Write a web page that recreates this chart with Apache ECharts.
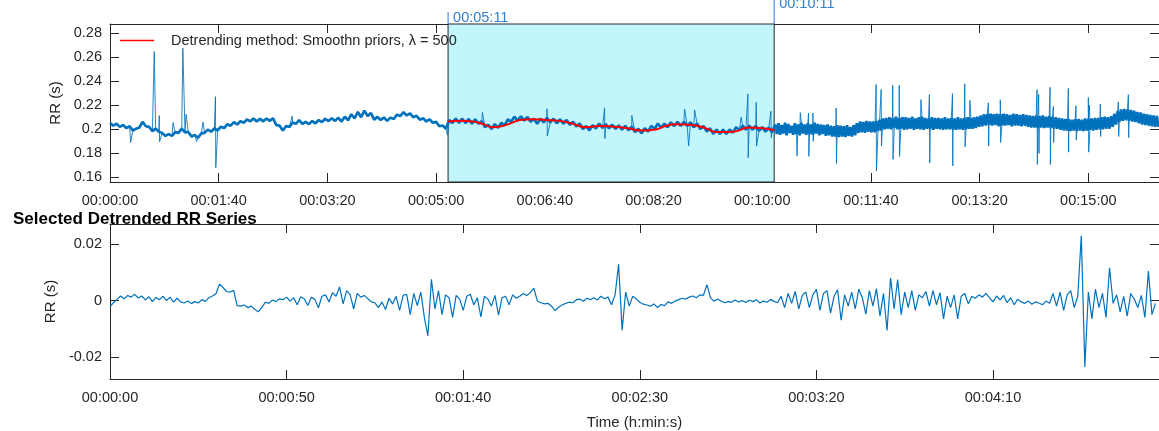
<!DOCTYPE html>
<html>
<head>
<meta charset="utf-8">
<script src="https://cdn.jsdelivr.net/npm/echarts@6/dist/echarts.min.js"></script>
<style>
  html, body { margin: 0; padding: 0; background: #ffffff; }
  #chart { width: 1159px; height: 431px; }
</style>
</head>
<body>
<div id="chart"></div>
<script>
// ---- Full RR recording (ms) ----
// first part: one sample every 3 s from 0 s
const EARLY_STEP = 3;
const rrEarly = [
  205.5, 203, 204.6, 202, 203.5, 201, 202.5, 199, 200.5, 201.5,
  206.2, 202.5, 202, 198.5, 200.5, 198, 197, 194.5, 196, 194.5,
  197.6, 197, 200.6, 197.5, 197.8, 194, 195.2, 193, 196.6, 197,
  199.7, 198, 200.7, 199, 202.2, 201, 204.2, 203, 206, 204,
  206.7, 205.5, 208.2, 206.6, 209, 206.5, 208.7, 206.6, 209, 207,
  209.2, 203.5, 203, 199, 202.7, 202, 205.7, 204.5, 207.6, 204.5,
  206.2, 204.3, 206.8, 205, 207.7, 206, 208.7, 206.8, 209.2, 207,
  209.5, 206.5, 210.5, 207.5, 212.5, 209, 214.5, 210, 215.5, 211,
  213.5, 208, 210.3, 207.8, 209.8, 207, 209.7, 208.5, 212.2, 211,
  214.2, 211.5, 213.3, 210, 211.2, 208, 209.2, 206.5, 208.2, 205.4,
  206.2, 202.5, 203.2, 200.5, 207.8, 205.2, 209, 205.4, 208.8, 205.2,
  208.6, 204.6, 208.2, 204.6, 206.8, 201.7, 203.8, 200.2, 204.3, 201.2,
  205.4, 203.2, 208.3, 206.2, 210.5, 207.2, 210.8, 207.2, 210.3, 206.2,
  208.8, 204.6, 208.8, 205.7, 209.6, 205.7, 208.8, 205, 208.3, 204.6,
  207.8, 203.7, 206.3, 202.4, 204.8, 200.2, 202.8, 199.1, 203.3, 200.7,
  204.8, 201.2, 204.3, 200.7, 203.8, 200.2, 203.3, 199.7, 202.8, 199.2,
  202.3, 197.7, 200.4, 196.7, 200.8, 198.2, 202.8, 200.2, 204.8, 201.2,
  204.8, 201.7, 205.8, 202.7, 206.3, 202.7, 206.3, 202.7, 205.8, 201.7,
  204.8, 200.2, 202.8, 198.2, 200.8, 196.2, 199.8, 196.2, 199.8, 196.2,
  199.8, 197.2, 201.8, 199.2, 203, 199.6, 203.2, 199.6, 202.8, 198.7,
  201.8, 198, 201.4, 197.6
];
// second part: one sample every 1.5 s from 612 s (more variable segment)
const LATE_START = 612;
const LATE_STEP = 1.5;
const rrLate = [
  204, 196, 205, 195.5, 203.5, 196.5, 205.5, 195, 204.5, 197, 203, 195.5, 205, 196, 204, 195, 205.5, 196.5, 204, 195.5,
  205, 196, 204, 195.5, 205.5, 196.5, 204.5, 195, 204, 196, 203.5, 194.5, 204, 195, 203, 194, 202.5, 194, 203.5, 193.5,
  203, 194, 202.5, 193.5, 203.5, 194.5, 202, 194, 203.5, 195, 205, 197, 206.5, 197.5, 206, 197, 207, 198, 206.5, 197.5,
  206.5, 197.5, 207, 198.5, 208, 199, 209, 200, 209.5, 200.5, 210, 200, 209.5, 201, 210.5, 200, 209.5, 200.5, 210, 199.5,
  210, 200, 209.5, 200.5, 210.5, 199.5, 209, 200.5, 210, 200, 210.5, 199.5, 209.5, 200.5, 209, 200, 210, 199.5, 209.5, 200.5,
  209.5, 200, 209, 199.5, 210, 200, 209, 200, 209.5, 199.5, 209, 199.5, 210, 200, 209, 199.5, 209.5, 200, 210, 200.5,
  209.5, 200.5, 210, 201, 210.5, 202, 211.5, 202.5, 212.5, 203, 212.5, 203.5, 213, 203, 212.5, 203.5, 213, 202.5, 212.5, 203,
  213, 203, 212.5, 203.5, 212, 202.5, 213, 203, 212.5, 203, 212, 202.5, 212.5, 203, 212, 202, 211.5, 201.5, 211, 201.5,
  211.5, 201, 211, 201.5, 211.5, 201, 210.5, 201.5, 211, 201, 210.5, 200.5, 210, 200.5, 209.5, 199.5, 209, 199, 208.5, 199,
  208.5, 198.5, 208, 199, 208.5, 198.5, 208.5, 199, 208, 198.5, 209, 199, 208.5, 199.5, 209, 199, 209.5, 199.5, 209.5, 200,
  210, 200, 210.5, 200.5, 210, 200.5, 211, 202, 213, 204, 215, 206, 216.5, 207, 217, 207.5, 216.5, 207, 216, 206.5,
  215.5, 206, 214.5, 205, 214, 204, 213, 203.5, 212.5, 203, 212, 202.5, 211.5, 202, 211, 202
];

// Isolated ectopic / artefact beats (time s, RR ms)
const spikeTimes = [
  19.0, 40.7, 45.3, 45.6, 58, 67, 70, 79.7, 85.6, 97, 97.3, 167.6, 310.5,
  342.6, 402, 402.3, 455, 455.3, 480, 528.6, 532.3, 537.8, 580.6, 586.8, 587.1,
  594.5, 594.8, 608, 608.3, 632, 635, 642.6, 642.9, 646.6, 646.9, 668, 668.3,
  704.8, 705.1, 709.4, 709.7, 720, 720.3, 726, 726.3, 746, 753.8, 754.1,
  775, 775.3, 786.3, 786.6, 791, 808, 808.3, 819, 819.3, 852.8, 853.1,
  854.3, 854.6, 864.8, 865.1, 867.8, 868.1, 881.6, 881.9, 888.6, 888.9,
  900, 900.3, 901, 911, 911.3, 927.6, 927.9, 936.8, 937.1
];
const spikeValues = [
  189, 264.6, 211.4, 189.6, 205.5, 267.4, 212.5, 190, 206, 227.1, 168.1, 211, 195,
  214, 217, 194.4, 217.8, 192.4, 211.5, 216.8, 186.2, 216, 210, 229.4, 176.5,
  222.4, 186, 215, 193, 178, 213.9, 213.5, 177.5, 213.5, 190, 217.7, 171.5,
  237.2, 165.3, 233, 186, 236.6, 175, 236.6, 177.5, 224.6, 228.8, 172,
  229.6, 169.6, 237.8, 185.4, 224, 222, 186, 224.5, 189, 233, 170.7,
  229, 180, 234.9, 170.7, 219, 189, 234, 181, 219.5, 191,
  226.5, 181, 220, 221, 194, 222.9, 194, 228.8, 193
];

// Smoothness-priors trend over the selected window (time s, RR ms)
const trendTimes = [311, 322, 334, 343, 352, 361, 370, 377, 389, 401, 414, 426, 438, 450,
  463, 475, 490, 503, 509, 521, 536, 548, 558, 573, 588, 601, 611];
const trendValues = [206.4, 207.2, 206.4, 204.5, 201.7, 202.8, 205.5, 207.8, 208.4, 207.8,
  207, 204.5, 201.7, 202.8, 202.2, 201.1, 198.9, 200, 202.2, 204.2, 203.6, 200.8, 197.7,
  198, 201.4, 200.8, 199.4];

// Selected analysis window (s)
const selStart = 311;
const selEnd = 611;

// Detrended RR over the selected window (ms), one sample per second
const DET_STEP = 1;
const rrDetrended = [
  -2.2, -0.8, 0.4, 1.6, 0.6, 1.8, 1.2, 2.2, 0.9, 1.6,
  0.2, 1.4, -0.4, 1.1, 0.3, 1.5, 0.0, 1.2, -0.6, 0.8,
  -0.5, -0.9, -0.2, -1.1, -0.4, -0.9, 0.3, -0.3, 1.0, 1.6,
  2.4, 5.8, 4.6, 3.2, 3.0, 3.6, -1.8, -2.0, -1.6, -2.5,
  -2.0, -3.2, -4.0, -2.4, -0.6, -1.0, 0.2, -0.4, 0.6, 0.3,
  1.2, -0.2, 1.0, -1.5, 1.3, 0.6, -1.8, 1.2, 0.4, -2.6,
  1.5, 2.0, -0.5, 2.8, 1.5, 4.8, -1.2, 3.5, 2.0, -3.0,
  2.5, 1.2, 1.8, 0.6, -0.5, -0.8, -2.5, -0.5, -3.2, 0.8,
  -1.2, 1.5, -3.5, 1.8, 2.2, -5.0, 2.5, -1.8, 3.0, -6.0,
  -12.5, 7.5, -3.0, 3.5, -5.0, 2.0, 1.0, -6.0, 1.8, 0.5,
  -3.5, 1.5, 2.2, -1.5, 1.0, -5.8, 1.5, 0.5, -2.0, 1.8,
  -5.2, 1.0, 1.5, -1.5, 2.0, 0.8, 1.5, 2.5, 1.8, 2.8,
  4.4, -0.2, -0.8, -1.2, -1.0, -2.0, -3.6, -2.4, -1.6, -1.0,
  -0.6, -0.8, 0.2, 0.5, -0.3, 0.8, 0.3, 1.0, 0.2, 1.5,
  0.6, 1.2, -1.5, 2.0, 12.8, -10.5, 3.0, -2.0, 1.5, 0.6,
  -0.6, -1.3, -1.6, -2.0, -1.2, -2.5, -1.4, -1.8, -0.5, -1.0,
  -0.2, 0.3, 0.8, 0.5, 1.2, 1.6, 1.0, 2.0, 1.8, 5.6,
  1.0, -0.3, 0.5, -0.2, -0.8, -0.4, -0.6, 0.2, -0.5, 0.0,
  -0.7, 0.1, -0.4, 0.3, -0.9, -0.2, -0.6, 0.4, -0.3, -0.8,
  1.5, -2.5, 2.5, -1.0, 3.2, -3.0, 1.8, 3.0, -2.5, 2.0,
  4.0, -3.5, 2.5, 3.5, -4.5, 1.5, 3.8, -7.0, 2.0, -2.0,
  3.0, -3.0, 4.0, 1.0, -4.8, 3.5, -2.0, 4.2, -5.5, 2.5,
  -10.6, 8.0, -3.0, 7.4, -5.0, 3.0, -2.5, 3.5, -3.5, 2.0,
  1.0, 3.2, -2.0, 3.5, -1.5, 2.8, -6.5, 1.5, -2.5, 2.0,
  -6.5, 1.5, 2.5, -1.2, 1.5, 0.8, 2.0, 1.2, 2.5, 1.0,
  -0.5, 1.6, 0.2, 1.8, -0.8, 1.0, -1.5, 0.5, -0.5, -1.0,
  -0.2, -1.3, -0.5, -0.9, -1.5, -0.2, -1.0, 2.5, -2.0, 3.0,
  -3.5, 2.0, 3.5, -2.5, 1.5, 22.9, -23.5, 3.0, -6.5, 4.0,
  -2.5, 2.5, -6.0, 11.6, -1.0, 2.0, -4.0, 1.5, -5.5, 2.5,
  0.5, -2.5, 1.8, -6.0, 10.4, -5.0, -1.0
];

// Axis ranges and tick positions
const topTimeMax = 965;
const topTimeTicks = [0, 100, 200, 300, 400, 500, 600, 700, 800, 900];
const topRRMin = 0.1562, topRRMax = 0.2875;
const topRRTicks = [0.16, 0.18, 0.2, 0.22, 0.24, 0.26, 0.28];
const detTimeMax = 297;
const detTimeTicks = [0, 50, 100, 150, 200, 250];
const detRRMin = -0.0278, detRRMax = 0.0271;
const detRRTicks = [-0.02, 0, 0.02];

const legendLabel = 'Detrending method: Smoothn priors, λ = 500';

// ---- build series data ----
const basePoints = rrEarly.map((v, i) => [i * EARLY_STEP, v / 1000])
  .concat(rrLate.map((v, i) => [LATE_START + i * LATE_STEP, v / 1000]));

// ectopic beats: each group is joined to the neighbouring samples of the recording
const spikePoints = [];
(function () {
  const beats = spikeTimes.map((t, i) => [t, spikeValues[i] / 1000]);
  let group = [];
  const flush = () => {
    if (!group.length) return;
    const t0 = group[0][0], t1 = group[group.length - 1][0];
    let before = null, after = null;
    for (const p of basePoints) {
      if (p[0] <= t0) before = p;
      if (p[0] > t1 && !after) after = p;
    }
    if (before) spikePoints.push(before);
    group.forEach(p => spikePoints.push(p));
    if (after) spikePoints.push(after);
    spikePoints.push([t1, '-']);
    group = [];
  };
  beats.forEach(b => {
    if (group.length && b[0] - group[group.length - 1][0] > 0.5) flush();
    group.push(b);
  });
  flush();
})();

const trendPoints = trendTimes.map((t, i) => [t, trendValues[i] / 1000]);
const detPoints = rrDetrended.map((v, i) => [i * DET_STEP, v / 1000]);

const FONT = "'Liberation Sans', Arial, Helvetica, sans-serif";
const INK = '#262626';
const BLUE = '#0072bd';

function hms(sec) {
  const s = Math.round(sec);
  const h = Math.floor(s / 3600), m = Math.floor((s % 3600) / 60), r = s % 60;
  return [h, m, r].map(n => String(n).padStart(2, '0')).join(':');
}
function num(v) { return String(+v.toFixed(3)); }

function xAxisCfg(grid, pos, max, ticks, withLabels, extra) {
  return Object.assign({
    type: 'value', gridIndex: grid, position: pos, min: 0, max: max,
    axisLine: { show: true, onZero: false, lineStyle: { color: INK, width: 1 } },
    axisTick: { show: true, inside: true, length: 9, customValues: ticks, lineStyle: { color: INK } },
    axisLabel: withLabels ? {
      show: true, customValues: ticks, formatter: hms, margin: 11,
      fontFamily: FONT, fontSize: 14.5, color: INK
    } : { show: false },
    splitLine: { show: false }
  }, extra || {});
}
function yAxisCfg(grid, pos, min, max, ticks, withLabels, extra) {
  return Object.assign({
    type: 'value', gridIndex: grid, position: pos, min: min, max: max,
    axisLine: { show: true, onZero: false, lineStyle: { color: INK, width: 1 } },
    axisTick: { show: true, inside: true, length: 9, customValues: ticks, lineStyle: { color: INK } },
    axisLabel: withLabels ? {
      show: true, customValues: ticks, formatter: num, margin: 8,
      fontFamily: FONT, fontSize: 14.5, color: INK
    } : { show: false },
    splitLine: { show: false }
  }, extra || {});
}

const chart = echarts.init(document.getElementById('chart'), null, { renderer: 'canvas' });

chart.setOption({
  animation: false,
  backgroundColor: '#ffffff',
  textStyle: { fontFamily: FONT },
  title: {
    text: 'Selected Detrended RR Series', left: 8, top: 206,
    textStyle: { fontFamily: FONT, fontSize: 17, fontWeight: 'bold', color: '#000000' }
  },
  legend: {
    data: [legendLabel], left: 115, top: 28, icon: 'rect',
    itemWidth: 34, itemHeight: 1.5, selectedMode: false,
    textStyle: { fontFamily: FONT, fontSize: 14.5, color: INK, padding: [0, 0, 0, 12] }
  },
  grid: [
    { left: 110, top: 24, width: 1050, height: 158 },
    { left: 110, top: 224, width: 1050, height: 157 }
  ],
  xAxis: [
    xAxisCfg(0, 'bottom', topTimeMax, topTimeTicks, true),
    xAxisCfg(0, 'top', topTimeMax, topTimeTicks, false),
    xAxisCfg(1, 'bottom', detTimeMax, detTimeTicks, true, {
      name: 'Time (h:min:s)', nameLocation: 'middle', nameGap: 36,
      nameTextStyle: { fontFamily: FONT, fontSize: 15, color: INK }
    }),
    xAxisCfg(1, 'top', detTimeMax, detTimeTicks, false)
  ],
  yAxis: [
    yAxisCfg(0, 'left', topRRMin, topRRMax, topRRTicks, true, {
      name: 'RR (s)', nameLocation: 'middle', nameGap: 47, nameRotate: 90,
      nameTextStyle: { fontFamily: FONT, fontSize: 15, color: INK }
    }),
    yAxisCfg(0, 'right', topRRMin, topRRMax, topRRTicks, false),
    yAxisCfg(1, 'left', detRRMin, detRRMax, detRRTicks, true, {
      name: 'RR (s)', nameLocation: 'middle', nameGap: 47, nameRotate: 90,
      nameTextStyle: { fontFamily: FONT, fontSize: 15, color: INK }
    }),
    yAxisCfg(1, 'right', detRRMin, detRRMax, detRRTicks, false)
  ],
  series: [
    {
      name: 'Ectopic', type: 'line', xAxisIndex: 0, yAxisIndex: 0,
      data: spikePoints, showSymbol: false, connectNulls: false, z: 3,
      lineStyle: { color: BLUE, width: 1, opacity: 0.85 },
      markArea: {
        silent: true,
        itemStyle: { color: '#c3f5fd', borderColor: INK, borderWidth: 1 },
        data: [[{ xAxis: selStart }, { xAxis: selEnd }]]
      }
    },
    {
      name: 'RR', type: 'line', xAxisIndex: 0, yAxisIndex: 0,
      data: basePoints, showSymbol: false, sampling: null, z: 4,
      lineStyle: { color: BLUE, width: 2.7 }
    },
    {
      name: legendLabel, type: 'line', xAxisIndex: 0, yAxisIndex: 0,
      data: trendPoints, smooth: true, showSymbol: false, z: 5,
      itemStyle: { color: '#ff0000' },
      lineStyle: { color: '#ff0000', width: 2 }
    },
    {
      name: 'Detrended RR', type: 'line', xAxisIndex: 2, yAxisIndex: 2,
      data: detPoints, showSymbol: false, z: 3,
      lineStyle: { color: BLUE, width: 1.2 }
    }
  ]
});

// Window boundary annotations above the top panel, placed through the time axis scale
const xa = chart.convertToPixel({ xAxisIndex: 0 }, selStart);
const xb = chart.convertToPixel({ xAxisIndex: 0 }, selEnd);
const LBL = '#2f7fd0';
chart.setOption({
  graphic: [
    { type: 'line', shape: { x1: xa, y1: 12, x2: xa, y2: 24 }, style: { stroke: LBL, lineWidth: 1 } },
    { type: 'text', x: xa + 5, y: 18, style: { text: hms(selStart), fill: LBL, font: '14.5px ' + FONT, textVerticalAlign: 'middle' } },
    { type: 'line', shape: { x1: xb, y1: 0, x2: xb, y2: 24 }, style: { stroke: LBL, lineWidth: 1 } },
    { type: 'text', x: xb + 5, y: 4, style: { text: hms(selEnd), fill: LBL, font: '14.5px ' + FONT, textVerticalAlign: 'middle' } }
  ]
});
</script>
</body>
</html>
